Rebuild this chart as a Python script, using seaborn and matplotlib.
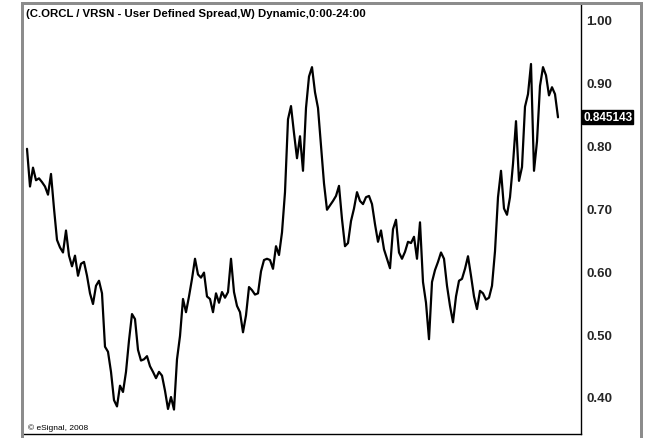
import matplotlib
matplotlib.use("Agg")
import matplotlib.pyplot as plt
import matplotlib.transforms as mtransforms
from matplotlib.patches import Rectangle
import numpy as np
import pandas as pd
import seaborn as sns

# ---- data (weekly spread values) ----
spread_values = [
    0.795, 0.735, 0.765, 0.745, 0.748, 0.742, 0.735, 0.722, 0.755, 0.700,
    0.650, 0.638, 0.630, 0.665, 0.625, 0.608, 0.625, 0.593, 0.612, 0.615,
    0.593, 0.565, 0.548, 0.577, 0.585, 0.565, 0.480, 0.472, 0.440, 0.395,
    0.385, 0.418, 0.408, 0.440, 0.490, 0.532, 0.524, 0.475, 0.458, 0.460,
    0.465, 0.449, 0.440, 0.430, 0.440, 0.434, 0.410, 0.381, 0.400, 0.380,
    0.460, 0.497, 0.556, 0.535, 0.560, 0.588, 0.620, 0.595, 0.590, 0.598,
    0.560, 0.556, 0.535, 0.565, 0.550, 0.567, 0.558, 0.567, 0.620, 0.567,
    0.545, 0.535, 0.503, 0.530, 0.575, 0.570, 0.563, 0.565, 0.600, 0.618,
    0.620, 0.618, 0.604, 0.640, 0.626, 0.662, 0.726, 0.842, 0.863, 0.820,
    0.780, 0.815, 0.760, 0.860, 0.910, 0.925, 0.885, 0.860, 0.800, 0.740,
    0.698, 0.705, 0.712, 0.720, 0.736, 0.683, 0.640, 0.645, 0.680, 0.700,
    0.726, 0.712, 0.707, 0.718, 0.720, 0.707, 0.675, 0.647, 0.665, 0.635,
    0.620, 0.605, 0.667, 0.682, 0.630, 0.620, 0.631, 0.647, 0.645, 0.655,
    0.620, 0.678, 0.583, 0.550, 0.492, 0.583, 0.602, 0.615, 0.630, 0.620,
    0.577, 0.545, 0.519, 0.560, 0.585, 0.588, 0.604, 0.624, 0.593, 0.560,
    0.540, 0.569, 0.565, 0.555, 0.558, 0.577, 0.632, 0.718, 0.760, 0.700,
    0.690, 0.718, 0.771, 0.839, 0.744, 0.766, 0.862, 0.882, 0.930, 0.760,
    0.807, 0.895, 0.925, 0.912, 0.880, 0.893, 0.882, 0.845143,
]
week_index = list(range(len(spread_values)))
y_ticks = [0.40, 0.50, 0.60, 0.70, 0.80, 0.90, 1.00]
y_tick_labels = ["0.40", "0.50", "0.60", "0.70", "0.80", "0.90", "1.00"]
last_value_label = "0.845143"
title_text = "(C.ORCL / VRSN - User Defined Spread,W) Dynamic,0:00-24:00"
copyright_text = "\u00a9 eSignal, 2008"

df = pd.DataFrame({"week": week_index, "spread": spread_values})

sns.set_style("white")
plt.rcParams["font.family"] = ["Liberation Sans", "DejaVu Sans"]

W, H = 664, 439
fig = plt.figure(figsize=(W / 100, H / 100), dpi=100, facecolor="white")

def fx(px):
    return px / W

def fy(py):
    return 1 - py / H

# axes: left 24, right 581, top 4, bottom 435 (pixels)
ax = fig.add_axes([fx(24), fy(435), fx(581 - 24), (435 - 4) / H])
ax.set_facecolor("white")

sns.lineplot(data=df, x="week", y="spread", ax=ax, color="black",
             linewidth=1.6, estimator=None)

# x: index 0 at px 27, 3 px per week
ax.set_xlim(-1, (581 - 27) / 3)
# y: 1.00 at px 21, 0.40 at px 398
ppu = (398 - 21) / 0.6
ax.set_ylim(0.40 - (435 - 398) / ppu, 1.00 + (21 - 4) / ppu)

ax.set_xticks([])
ax.set_xlabel("")
ax.set_ylabel("")
ax.yaxis.tick_right()
ax.set_yticks(y_ticks)
ax.set_yticklabels(y_tick_labels, fontsize=9.5, fontweight="bold")
ax.tick_params(axis="y", length=0, pad=4)

for side in ["left", "top"]:
    ax.spines[side].set_visible(False)
for side in ["right", "bottom"]:
    ax.spines[side].set_visible(True)
    ax.spines[side].set_color("black")
    ax.spines[side].set_linewidth(1.0)

# last value marker on the price axis
trans = mtransforms.blended_transform_factory(ax.transAxes, ax.transData)
ax.text(1.0 + 2 / (581 - 24), spread_values[-1], last_value_label,
        transform=trans, ha="left", va="center", color="white",
        fontsize=8.5, fontweight="bold", clip_on=False,
        bbox=dict(boxstyle="square,pad=0.1", facecolor="black", edgecolor="black"))

# window frame (gray bevel)
gray = "#8c8c8c"
fig.patches.append(Rectangle((fx(21), fy(439)), fx(3), (439 - 3) / H,
                             transform=fig.transFigure, facecolor=gray, edgecolor="none"))
fig.patches.append(Rectangle((fx(21), fy(5.5)), fx(643 - 21), 2.5 / H,
                             transform=fig.transFigure, facecolor=gray, edgecolor="none"))
fig.patches.append(Rectangle((fx(640), fy(439)), fx(3), (439 - 3) / H,
                             transform=fig.transFigure, facecolor=gray, edgecolor="none"))

fig.text(fx(26), fy(14), title_text, ha="left", va="center",
         fontsize=8.2, fontweight="bold", color="black")
fig.text(fx(28), fy(428), copyright_text, ha="left", va="center",
         fontsize=6, color="black")

fig.savefig("out.png", dpi=100, facecolor="white")
